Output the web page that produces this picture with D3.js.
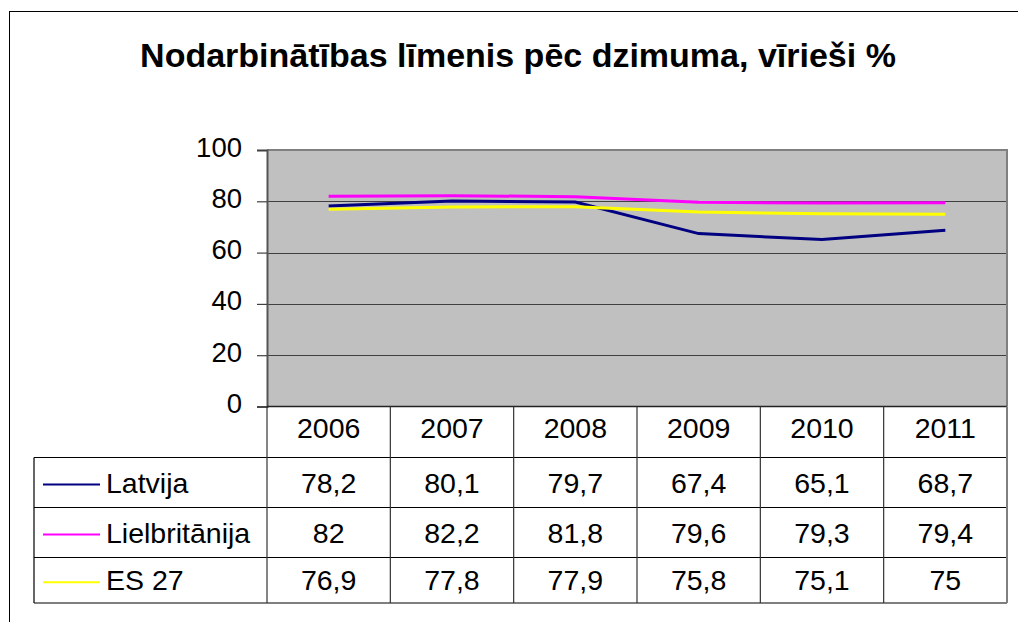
<!DOCTYPE html>
<html>
<head>
<meta charset="utf-8">
<script src="https://cdn.jsdelivr.net/npm/d3@7"></script>
<style>
  body { margin: 0; background: #fff; }
  text { font-family: "Liberation Sans", Arial, sans-serif; }
</style>
</head>
<body>
<div id="chart"></div>
<script>
// Data
const title = "Nodarbinātības līmenis pēc dzimuma, vīrieši %";
const years = ["2006", "2007", "2008", "2009", "2010", "2011"];
const seriesNames = ["Latvija", "Lielbritānija", "ES 27"];
const latvija = [78.2, 80.1, 79.7, 67.4, 65.1, 68.7];
const lielbritanija = [82, 82.2, 81.8, 79.6, 79.3, 79.4];
const es27 = [76.9, 77.8, 77.9, 75.8, 75.1, 75];
const yTicks = [0, 20, 40, 60, 80, 100];
const colors = ["#000080", "#FF00FF", "#FFFF00"];

const series = [latvija, lielbritanija, es27].map((values, i) => ({
    name: seriesNames[i],
    color: colors[i],
    values: values.map((v, j) => ({year: years[j], value: v}))
}));

const W = 1018, H = 622;
const plot = {left: 267, right: 1007, top: 150, bottom: 406.5};

const svg = d3.select("#chart")
    .append("svg")
    .attr("width", W)
    .attr("height", H);

// Outer frame
svg.append("rect")
    .attr("x", 9.5)
    .attr("y", 11.5)
    .attr("width", W)
    .attr("height", H)
    .attr("fill", "none")
    .attr("stroke", "#000")
    .attr("stroke-width", 1);

// Title
svg.append("text")
    .attr("x", 518)
    .attr("y", 67)
    .attr("text-anchor", "middle")
    .style("font-size", "34px")
    .style("font-weight", "bold")
    .text(title);

// Scales
const x = d3.scaleBand()
    .domain(years)
    .range([plot.left, plot.right])
    .padding(0);

const y = d3.scaleLinear()
    .domain([0, 100])
    .range([plot.bottom, plot.top]);

// Plot background
svg.append("rect")
    .attr("x", plot.left)
    .attr("y", plot.top)
    .attr("width", plot.right - plot.left)
    .attr("height", plot.bottom - plot.top)
    .attr("fill", "#C0C0C0");

// Gridlines
svg.append("g")
    .selectAll("line")
    .data(yTicks.filter(t => t > 0 && t < 100))
    .enter()
    .append("line")
    .attr("x1", plot.left)
    .attr("x2", plot.right)
    .attr("y1", d => Math.round(y(d)) + 0.5)
    .attr("y2", d => Math.round(y(d)) + 0.5)
    .attr("stroke", "#404040")
    .attr("stroke-width", 1.2);

// Top and right border of the plot area
svg.append("path")
    .attr("d", `M${plot.left},${plot.top} H${plot.right} V${plot.bottom}`)
    .attr("fill", "none")
    .attr("stroke", "#808080")
    .attr("stroke-width", 2);

// Y axis
const yAxis = d3.axisLeft(y)
    .tickValues(yTicks)
    .tickSize(10)
    .tickPadding(15)
    .tickFormat(d3.format("d"));

const yAxisG = svg.append("g")
    .attr("transform", `translate(${plot.left},0)`)
    .call(yAxis);

yAxisG.select(".domain")
    .attr("stroke", "#555")
    .attr("stroke-width", 2);

yAxisG.selectAll(".tick line")
    .attr("stroke", "#404040")
    .attr("stroke-width", 1.2);

yAxisG.selectAll(".tick text")
    .style("font-size", "27.5px")
    .style("font-family", "'Liberation Sans', Arial, sans-serif")
    .attr("fill", "#000")
    .attr("dy", "0.22em");

// Lines
const line = d3.line()
    .x(d => x(d.year) + x.bandwidth() / 2)
    .y(d => y(d.value));

svg.append("g")
    .selectAll("path")
    .data(series)
    .enter()
    .append("path")
    .attr("fill", "none")
    .attr("stroke", d => d.color)
    .attr("stroke-width", 3)
    .attr("d", d => line(d.values));

// Data table
const table = {left: 34, rows: [457.5, 507.5, 557.5, 603]};
const fmt = v => String(v).replace(".", ",");

const tableG = svg.append("g");

// x axis line (header top)
tableG.append("line")
    .attr("x1", plot.left)
    .attr("x2", plot.right)
    .attr("y1", plot.bottom)
    .attr("y2", plot.bottom)
    .attr("stroke", "#222")
    .attr("stroke-width", 1.5);

// Horizontal row lines
tableG.selectAll(".row-line")
    .data(table.rows)
    .enter()
    .append("line")
    .attr("class", "row-line")
    .attr("x1", table.left)
    .attr("x2", plot.right)
    .attr("y1", d => d)
    .attr("y2", d => d)
    .attr("stroke", "#000")
    .attr("stroke-width", 1.2);

// Vertical column lines
const colEdges = years.map(yr => x(yr)).concat([plot.right]);
tableG.selectAll(".col-line")
    .data(colEdges)
    .enter()
    .append("line")
    .attr("class", "col-line")
    .attr("x1", d => d)
    .attr("x2", d => d)
    .attr("y1", plot.bottom)
    .attr("y2", table.rows[table.rows.length - 1])
    .attr("stroke", (d, i) => i === colEdges.length - 1 ? "#808080" : "#333")
    .attr("stroke-width", (d, i) => i === colEdges.length - 1 ? 2 : 1.2);

// Left border of legend column
tableG.append("line")
    .attr("x1", table.left)
    .attr("x2", table.left)
    .attr("y1", table.rows[0])
    .attr("y2", table.rows[table.rows.length - 1])
    .attr("stroke", "#000")
    .attr("stroke-width", 1.2);

// Header years
tableG.selectAll(".year")
    .data(years)
    .enter()
    .append("text")
    .attr("class", "year")
    .attr("x", d => x(d) + x.bandwidth() / 2)
    .attr("y", 438)
    .attr("text-anchor", "middle")
    .style("font-size", "28.5px")
    .text(d => d);

// Rows
series.forEach((s, i) => {
    const top = table.rows[i], bottom = table.rows[i + 1];
    const base = (top + bottom) / 2 + 10;
    const mid = (top + bottom) / 2;

    tableG.append("line")
        .attr("x1", 43)
        .attr("x2", 100)
        .attr("y1", mid + 2)
        .attr("y2", mid + 2)
        .attr("stroke", s.color)
        .attr("stroke-width", 2);

    tableG.append("text")
        .attr("x", 106)
        .attr("y", base)
        .style("font-size", "28.5px")
        .text(s.name);

    tableG.selectAll(".val-" + i)
        .data(s.values)
        .enter()
        .append("text")
        .attr("x", d => x(d.year) + x.bandwidth() / 2)
        .attr("y", base)
        .attr("text-anchor", "middle")
        .style("font-size", "28.5px")
        .text(d => fmt(d.value));
});
</script>
</body>
</html>
